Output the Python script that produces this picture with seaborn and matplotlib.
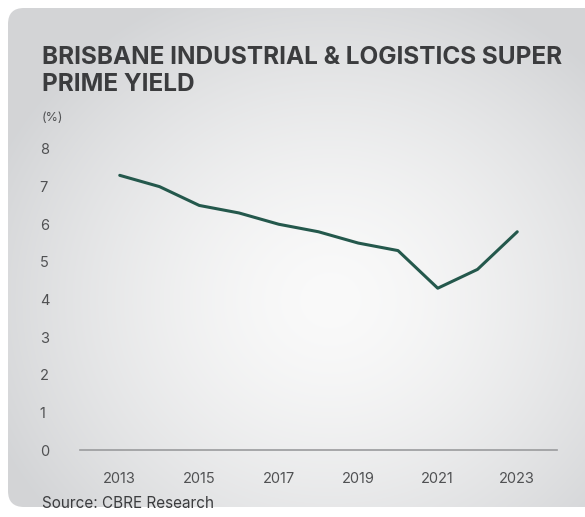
import numpy as np
import pandas as pd
import matplotlib
matplotlib.use("Agg")
import matplotlib.pyplot as plt
from matplotlib.patches import FancyBboxPatch
import seaborn as sns

# Chart data
years = [2013, 2014, 2015, 2016, 2017, 2018, 2019, 2020, 2021, 2022, 2023]
yields = [7.3, 7.0, 6.5, 6.3, 6.0, 5.8, 5.5, 5.3, 4.3, 4.8, 5.8]
y_ticks = [0, 1, 2, 3, 4, 5, 6, 7, 8]
x_ticks = [2013, 2015, 2017, 2019, 2021, 2023]

TITLE = "BRISBANE INDUSTRIAL & LOGISTICS SUPER\nPRIME YIELD"
UNIT = "(%)"
SOURCE = "Source: CBRE Research"

TEXT_DARK = "#3b3c3e"
TEXT_GREY = "#505153"
LINE_GREEN = "#24584c"

W, H = 585, 517


def draw_background(fig):
    """Rounded grey card with a soft radial gradient."""
    bg = fig.add_axes([0, 0, 1, 1], zorder=-1)
    bg.set_xlim(0, W)
    bg.set_ylim(H, 0)
    bg.axis("off")

    yy, xx = np.mgrid[0:H, 0:W]
    d = np.sqrt(((xx - 330) / 330.0) ** 2 + ((yy - 300) / 300.0) ** 2)
    light = np.array([0.98, 0.98, 0.98])
    dark = np.array([0.83, 0.835, 0.843])
    t = np.clip(d / 1.1, 0, 1)[..., None] ** 1.5
    img = light * (1 - t) + dark * t

    card = FancyBboxPatch((8, 8), W + 20, H - 8 - 8 - 2,
                          boxstyle="round,pad=0,rounding_size=16",
                          transform=bg.transData, facecolor="none",
                          edgecolor="none")
    bg.add_patch(card)
    im = bg.imshow(img, extent=(0, W, H, 0), interpolation="bilinear")
    im.set_clip_path(card)


def main():
    df = pd.DataFrame({"year": years, "yield": yields})

    sns.set_style("white")
    plt.rcParams["font.family"] = ["Inter", "Roboto", "DejaVu Sans"]

    fig = plt.figure(figsize=(W / 100, H / 100), dpi=100)
    fig.patch.set_facecolor("white")
    draw_background(fig)

    ax = fig.add_axes([80 / W, 1 - 450 / H, 477 / W, (450 - 149) / H])
    ax.patch.set_alpha(0)

    sns.lineplot(data=df, x="year", y="yield", ax=ax,
                 color=LINE_GREEN, linewidth=2.2)

    ax.set_xlim(2012, 2024)
    ax.set_ylim(0, 8)
    ax.set_xticks(x_ticks)
    ax.set_xticklabels([str(x) for x in x_ticks])
    ax.set_yticks(y_ticks)
    ax.set_yticklabels([str(v) for v in y_ticks], ha="left")
    ax.tick_params(axis="both", length=0, labelsize=10.5, colors=TEXT_GREY)
    ax.tick_params(axis="x", pad=16)
    ax.tick_params(axis="y", pad=29)
    ax.set_xlabel("")
    ax.set_ylabel("")

    for side in ["top", "right", "left"]:
        ax.spines[side].set_visible(False)
    ax.spines["bottom"].set_color("#9a9b9d")
    ax.spines["bottom"].set_linewidth(1.2)

    fig.text(42 / W, 1 - 46 / H, TITLE, ha="left", va="top",
             fontsize=17.5, fontweight="bold", color=TEXT_DARK,
             linespacing=1.2)
    fig.text(42 / W, 1 - 118 / H, UNIT, ha="left", va="center",
             fontsize=9, color=TEXT_GREY)
    fig.text(42 / W, 1 - 503 / H, SOURCE, ha="left", va="center",
             fontsize=11, color=TEXT_DARK)

    fig.savefig("out.png", dpi=100)
    plt.close(fig)


if __name__ == "__main__":
    main()
